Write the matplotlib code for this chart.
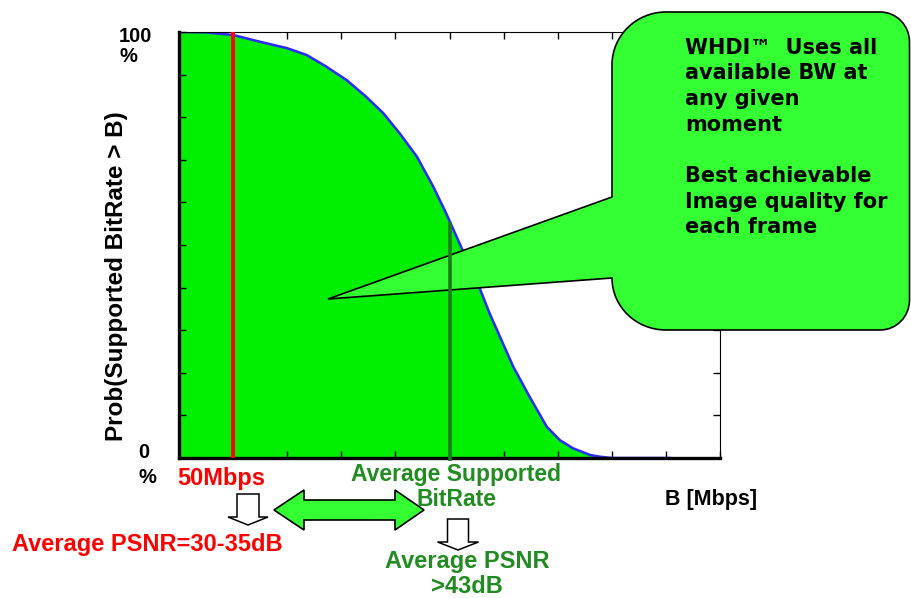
import matplotlib
matplotlib.use("Agg")
import matplotlib.pyplot as plt
from matplotlib.path import Path
from matplotlib.patches import PathPatch
from matplotlib.transforms import Affine2D

# ---------------- data ----------------
bitrate_mbps = [0, 25, 50, 75, 100, 118, 136, 155, 173, 189, 204, 220, 235, 247,
                260, 270, 278, 287, 298, 309, 324, 340, 352, 364, 380, 389, 400, 454]
prob_pct = [100, 99.9, 99.3, 97.7, 96.2, 94.6, 91.9, 88.7, 84.8, 80.9, 76.2, 70.7,
            63.7, 57.4, 50.0, 44.3, 39.8, 34.0, 27.7, 21.4, 14.4, 7.3, 4.2, 2.3, 0.7, 0.3, 0, 0]
fixed_rate = 50          # Mbps (red line)
avg_rate = 250           # Mbps (average supported bitrate)
avg_line_top = 55.5      # % height of the average marker
x_ticks = list(range(0, 501, 50))
y_ticks = list(range(0, 101, 10))

# ---------------- figure ----------------
W, H = 911, 598
fig = plt.figure(figsize=(W / 100, H / 100), dpi=100)
fig.patch.set_facecolor("white")

def fx(x):
    return x / W

def fy(y):
    return 1 - y / H

PX = Affine2D().scale(1 / W, -1 / H).translate(0, 1) + fig.transFigure

ax = fig.add_axes([fx(179), fy(458), (720 - 179) / W, (458 - 32) / H])
ax.set_xlim(0, 500)
ax.set_ylim(0, 100)
ax.set_xticks(x_ticks)
ax.set_yticks(y_ticks)
ax.tick_params(direction="in", length=5, width=1, top=True, right=True,
               labelbottom=False, labelleft=False, color="black")
for side in ("left", "bottom"):
    ax.spines[side].set_linewidth(2.4)
    ax.spines[side].set_color("black")
for side in ("top", "right"):
    ax.spines[side].set_linewidth(0.8)
    ax.spines[side].set_color("black")

# area under the curve
ax.fill_between(bitrate_mbps, 0, prob_pct, color="#00ee00", linewidth=0, zorder=1)
ax.plot(bitrate_mbps, prob_pct, color="#2a2aff", lw=1.8, zorder=2)
# 50 Mbps line
ax.plot([fixed_rate, fixed_rate], [0, 100], color="#ff0000", lw=2.8, zorder=3,
        solid_capstyle="butt")

# ---------------- callout ----------------
K = 0.5523
callout_verts = [
    (328, 299),
    (612, 278),
    (612, 278 + K * 52), (666 - K * 54, 330), (666, 330),
    (880, 330),
    (880 + K * 30, 330), (909.5, 300 + K * 30), (909.5, 300),
    (909.5, 42),
    (909.5, 42 - K * 30), (880 + K * 30, 12), (880, 12),
    (666, 12),
    (666 - K * 54, 12), (612, 65 - K * 53), (612, 65),
    (612, 197),
    (328, 299),
]
callout_codes = ([Path.MOVETO, Path.LINETO] + [Path.CURVE4] * 3 + [Path.LINETO]
                 + [Path.CURVE4] * 3 + [Path.LINETO] + [Path.CURVE4] * 3
                 + [Path.LINETO] + [Path.CURVE4] * 3 + [Path.LINETO, Path.CLOSEPOLY])
callout = PathPatch(Path(callout_verts, callout_codes), facecolor="#33ff33",
                    edgecolor="black", lw=1.2, transform=PX, zorder=4, clip_on=False)
ax.add_patch(callout)

# average supported bitrate line (drawn over the callout)
ax.plot([avg_rate, avg_rate], [-0.6, avg_line_top], color="#1c7a1c", lw=2.6,
        zorder=5, clip_on=False, solid_capstyle="butt")

callout_lines = ["WHDI\u2122  Uses all", "available BW at", "any given", "moment",
                 "", "Best achievable", "Image quality for", "each frame"]
for i, line in enumerate(callout_lines):
    if line:
        fig.text(fx(685), fy(53.5 + 25.7 * i), line, family="DejaVu Sans",
                 weight="bold", fontsize=15, color="black", ha="left",
                 va="baseline", zorder=6)

# ---------------- arrows ----------------
dbl = [(274, 510), (304, 490), (304, 500), (395, 500), (395, 490), (424, 510),
       (395, 530), (395, 520), (304, 520), (304, 530), (274, 510)]
fig.add_artist(PathPatch(Path(dbl, [Path.MOVETO] + [Path.LINETO] * 9 + [Path.CLOSEPOLY]),
                         facecolor="#33ff33", edgecolor="black", lw=1.2, transform=PX))

def down_arrow(cx, top, base, tip, shaft_hw, head_hw):
    v = [(cx - shaft_hw, top), (cx + shaft_hw, top), (cx + shaft_hw, base),
         (cx + head_hw, base), (cx, tip), (cx - head_hw, base),
         (cx - shaft_hw, base), (cx - shaft_hw, top)]
    fig.add_artist(PathPatch(Path(v, [Path.MOVETO] + [Path.LINETO] * 6 + [Path.CLOSEPOLY]),
                             facecolor="white", edgecolor="black", lw=1.1, transform=PX))

down_arrow(248, 494, 517, 525, 11, 20)
down_arrow(458, 519, 542, 550, 10.5, 20.5)

# ---------------- texts ----------------
AR = "Liberation Sans"
fig.text(fx(117), fy(276), "Prob(Supported BitRate > B)", rotation=90, family=AR,
         weight="bold", fontsize=17.5, ha="center", va="center")
fig.text(fx(135), fy(42), "100", family=AR, weight="bold", fontsize=14.5,
         ha="center", va="baseline")
fig.text(fx(128), fy(62), "%", family=AR, weight="bold", fontsize=14.5,
         ha="center", va="baseline")
fig.text(fx(144), fy(458), "0", family=AR, weight="bold", fontsize=14.5,
         ha="center", va="baseline")
fig.text(fx(147), fy(483), "%", family=AR, weight="bold", fontsize=14.5,
         ha="center", va="baseline")

RED = "#ff0000"
GRN = "#228b22"
fig.text(fx(221), fy(485), "50Mbps", family=AR, weight="bold", fontsize=17,
         color=RED, ha="center", va="baseline")
fig.text(fx(147), fy(551), "Average PSNR=30-35dB", family=AR, weight="bold",
         fontsize=17, color=RED, ha="center", va="baseline")
fig.text(fx(456), fy(481), "Average Supported", family=AR, weight="bold",
         fontsize=16.5, color=GRN, ha="center", va="baseline")
fig.text(fx(457), fy(506.5), "BitRate", family=AR, weight="bold",
         fontsize=16.5, color=GRN, ha="center", va="baseline")
fig.text(fx(467), fy(568), "Average PSNR", family=AR, weight="bold",
         fontsize=17, color=GRN, ha="center", va="baseline")
fig.text(fx(467), fy(593), ">43dB", family=AR, weight="bold",
         fontsize=17, color=GRN, ha="center", va="baseline")
fig.text(fx(665), fy(505.5), "B [Mbps]", family=AR, weight="bold",
         fontsize=15.5, color="black", ha="left", va="baseline")

fig.savefig("out.png", dpi=100)
